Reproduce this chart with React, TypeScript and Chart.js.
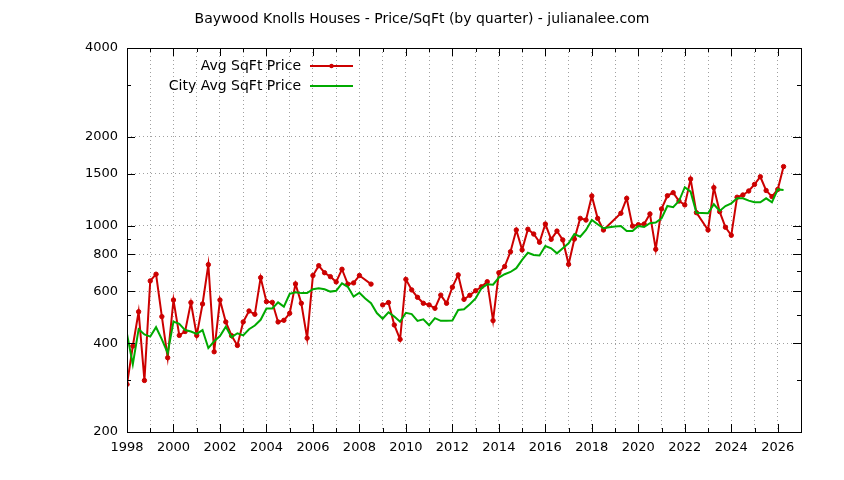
import { useEffect, useRef } from "react"
import { Chart, registerables } from "chart.js"

Chart.register(...registerables)

// quarterly values starting at 1998 Q1 (null = no data for that quarter)
const startYear = 1998
const avgSqFtPrice: (number | null)[] = [
  290, 391, 511, 299,
  650, 685, 492, 357,
  560, 425, 438, 549,
  425, 543, 738, 374,
  560, 472, 424, 393,
  472, 514, 501, 667,
  553, 550, 472, 478,
  505, 635, 546, 416,
  678, 732, 693, 672,
  645, 712, 634, 640,
  678, null, 634, null,
  539, 549, 461, 412,
  658, 606, 572, 546,
  539, 525, 582, 546,
  619, 681, 563, 581,
  602, 621, 646, 477,
  693, 727, 816, 967,
  828, 973, 937, 879,
  1013, 899, 959, 895,
  740, 901, 1059, 1045,
  1261, 1059, 967, null,
  null, 1102, 1238, 997,
  1008, 1013, 1096, 832,
  1140, 1263, 1294, 1212,
  1176, 1439, 1107, null,
  967, 1346, 1116, 988,
  928, 1249, 1271, 1311,
  1380, 1465, 1316, 1255,
  1327, 1586,
]
// quarters where the line is broken instead of joined
const avgSqFtBreaks = [2008.75]

const cityAvgSqFtPrice: (number | null)[] = [
  430, 339, 446, 428,
  421, 453, 412, 370,
  473, 465, 443, 438,
  430, 443, 385, 406,
  423, 455, 419, 432,
  425, 446, 459, 480,
  524, 524, 550, 532,
  588, 595, 591, 591,
  609, 614, 609, 598,
  602, 638, 621, 575,
  593, 567, 546, 506,
  484, 509, 492, 473,
  507, 502, 476, 482,
  460, 486, 476, 476,
  477, 518, 521, 542,
  567, 614, 633, 631,
  667, 685, 697, 718,
  766, 810, 796, 793,
  853, 838, 806, 838,
  872, 937, 918, 967,
  1045, 1011, 980, 988,
  993, 997, 959, 959,
  997, 990, 1020, 1025,
  1059, 1166, 1155, 1212,
  1350, 1304, 1107, 1105,
  1102, 1182, 1122, 1166,
  1191, 1238, 1238, 1216,
  1200, 1200, 1238, 1200,
  1327, 1320,
]

const yTicks = [200, 300, 400, 500, 600, 700, 800, 900, 1000, 1500, 2000, 3000, 4000]
const yLabeled = [200, 400, 600, 800, 1000, 1500, 2000, 4000]
const xMin = 1998
const xMax = 2027

const FONT = "DejaVu Sans"
const RED = "#cc0000"
const GREEN = "#00aa00"

function toPoints(values: (number | null)[], breaks: number[] = []) {
  const pts: { x: number; y: number | null }[] = []
  values.forEach((v, i) => {
    const x = startYear + i / 4
    if (v !== null) pts.push({ x, y: v })
    else if (breaks.includes(x)) pts.push({ x, y: null })
  })
  return pts
}

const framePlugin = {
  id: "frame",
  afterDatasetsDraw(chart: any) {
    const { ctx, chartArea } = chart
    const { left, right, top, bottom } = chartArea
    ctx.save()
    ctx.strokeStyle = "#000"
    ctx.lineWidth = 1
    ctx.beginPath()
    chart.scales.x.ticks.forEach((t: any) => {
      const px = Math.round(chart.scales.x.getPixelForValue(t.value)) + 0.5
      const len = t.value % 2 === 0 ? 8 : 4
      ctx.moveTo(px, bottom)
      ctx.lineTo(px, bottom - len)
      ctx.moveTo(px, top)
      ctx.lineTo(px, top + len)
    })
    chart.scales.y.ticks.forEach((t: any) => {
      const py = Math.round(chart.scales.y.getPixelForValue(t.value)) + 0.5
      const len = yLabeled.includes(t.value) ? 8 : 4
      ctx.moveTo(left, py)
      ctx.lineTo(left + len, py)
      ctx.moveTo(right, py)
      ctx.lineTo(right - len, py)
    })
    ctx.stroke()
    ctx.strokeRect(Math.round(left) + 0.5, Math.round(top) + 0.5, Math.round(right - left), Math.round(bottom - top))
    ctx.restore()
  },
}

const legendPlugin = {
  id: "insideLegend",
  afterDraw(chart: any) {
    const { ctx, chartArea } = chart
    ctx.save()
    ctx.font = `14px "${FONT}"`
    ctx.textAlign = "right"
    ctx.textBaseline = "middle"
    chart.data.datasets.forEach((ds: any, i: number) => {
      const y = chartArea.top + 18 + i * 20
      ctx.fillStyle = "#000"
      ctx.fillText(ds.label, chartArea.left + 174, y)
      ctx.strokeStyle = ds.borderColor
      ctx.lineWidth = 2
      ctx.beginPath()
      ctx.moveTo(chartArea.left + 183, y)
      ctx.lineTo(chartArea.left + 226, y)
      ctx.stroke()
      if (ds.pointRadius) {
        ctx.fillStyle = ds.pointBackgroundColor
        ctx.beginPath()
        ctx.arc(chartArea.left + 204.5, y, ds.pointRadius, 0, Math.PI * 2)
        ctx.fill()
      }
    })
    ctx.restore()
  },
}

export default function App() {
  const canvasRef = useRef<HTMLCanvasElement>(null)
  const chartRef = useRef<Chart | null>(null)

  useEffect(() => {
    if (!canvasRef.current) return
    if (chartRef.current) chartRef.current.destroy()
    const ctx = canvasRef.current.getContext("2d")
    if (!ctx) return

    chartRef.current = new Chart(ctx, {
      type: "line",
      data: {
        datasets: [
          {
            label: "Avg SqFt Price",
            data: toPoints(avgSqFtPrice, avgSqFtBreaks),
            borderColor: RED,
            backgroundColor: RED,
            pointBackgroundColor: RED,
            pointBorderColor: RED,
            pointRadius: 2.2,
            pointBorderWidth: 1,
            borderWidth: 2,
            spanGaps: false,
            order: 2,
          },
          {
            label: "City Avg SqFt Price",
            data: toPoints(cityAvgSqFtPrice),
            borderColor: GREEN,
            backgroundColor: GREEN,
            pointRadius: 0,
            borderWidth: 2,
            order: 1,
          },
        ] as any,
      },
      options: {
        animation: false,
        responsive: true,
        maintainAspectRatio: false,
        layout: { padding: 0 },
        plugins: {
          legend: { display: false },
          tooltip: { enabled: false },
          title: {
            display: true,
            text: "Baywood Knolls Houses - Price/SqFt (by quarter) - julianalee.com",
            color: "#000",
            font: { family: FONT, size: 14, weight: "normal", lineHeight: 1.2 },
            padding: { top: 11, bottom: 20.2 },
          },
        },
        scales: {
          x: {
            type: "linear",
            min: xMin,
            max: xMax,
            afterBuildTicks: (scale: any) => {
              const ticks = []
              for (let y = xMin; y <= xMax; y++) ticks.push({ value: y })
              scale.ticks = ticks
            },
            afterFit: (scale: any) => {
              scale.height = 48
            },
            ticks: {
              autoSkip: false,
              maxRotation: 0,
              color: "#000",
              padding: 8,
              font: { family: FONT, size: 13 },
              callback: (v: any) => (v % 2 === 0 && v < xMax ? String(v) : ""),
            },
            grid: {
              drawTicks: false,
              color: "#a0a0a0",
              lineWidth: 1,
            },
            border: { display: false, dash: [1, 3] },
          },
          y: {
            type: "logarithmic",
            min: 200,
            max: 4000,
            afterBuildTicks: (scale: any) => {
              scale.ticks = yTicks.map((v) => ({ value: v }))
            },
            afterFit: (scale: any) => {
              scale.width = 127
            },
            ticks: {
              autoSkip: false,
              color: "#000",
              padding: 9,
              font: { family: FONT, size: 13 },
              callback: (v: any) => (yLabeled.includes(v) ? String(v) : ""),
            },
            grid: {
              drawTicks: false,
              lineWidth: 1,
              color: (c: any) => (c.tick && yLabeled.includes(c.tick.value) ? "#a0a0a0" : "rgba(0,0,0,0)"),
            },
            border: { display: false, dash: [1, 3] },
          },
          // empty right-hand margin so the title stays centred on the page
          rightMargin: {
            type: "linear",
            position: "right",
            display: true,
            ticks: { display: false },
            grid: { display: false },
            border: { display: false },
            afterFit: (scale: any) => {
              scale.width = 43
            },
          },
        },
      },
      plugins: [framePlugin, legendPlugin],
    })

    return () => {
      if (chartRef.current) {
        chartRef.current.destroy()
        chartRef.current = null
      }
    }
  }, [])

  return (
    <div style={{ position: "fixed", left: 0, top: 0, width: 844, height: 480, background: "#fff" }}>
      <canvas ref={canvasRef} />
    </div>
  )
}
